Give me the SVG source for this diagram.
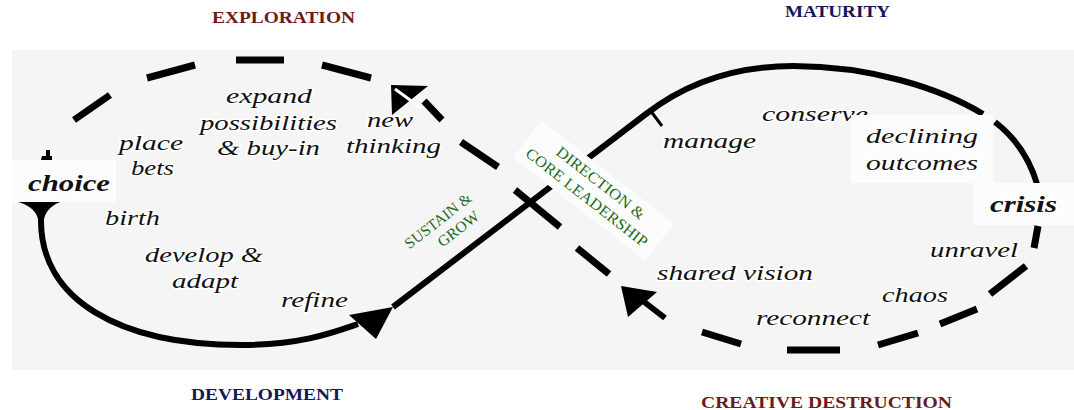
<svg xmlns="http://www.w3.org/2000/svg" width="1074" height="410" viewBox="0 0 1074 410">
<style>
.h{font-family:"Liberation Serif","Times New Roman",serif;font-weight:bold;font-size:16.5px}
.red{fill:#6e1a1a}
.navy{fill:#15155c}
.w{font-family:"Liberation Serif","Times New Roman",serif;font-style:italic;font-size:21.5px;fill:#111;stroke:#fff;stroke-width:3;paint-order:stroke;stroke-linejoin:round}
.b{font-weight:bold;font-size:24px}
.g{font-family:"Liberation Serif","Times New Roman",serif;font-size:15.5px;fill:#1f6a1f}
.sol{fill:none;stroke:#000;stroke-width:6}
.dash{fill:none;stroke:#000;stroke-width:7}
.ah{fill:#000}
.box{fill:#fcfcfc}
</style>
<rect width="1074" height="410" fill="#fff"/>
<rect x="12" y="50" width="1062" height="320" fill="#f5f5f5"/>

<g id="connectors">
  <!-- left loop solid lower arc -->
  <path class="sol" d="M41,219 C40,300 120,345 241,345 C300,345 332,333 358,324"/>
  <!-- sustain & grow line + right loop top -->
  <path class="sol" d="M393,307 L646,114 C690,80 740,66 793,66 C870,66 940,88 983,114"/>
  <path class="sol" d="M995,122 Q1026,146 1037,184"/>
  <path d="M650,110 L662,126" stroke="#000" stroke-width="3"/>
  <!-- right loop dashed lower arc -->
  <path class="dash" d="M1038,226 L1034,248"/>
  <path class="dash" d="M1026,266 L990,294"/>
  <path class="dash" d="M977,309 L940,324"/>
  <path class="dash" d="M918,333 L878,345"/>
  <path class="dash" d="M840,350 L787,350"/>
  <path class="dash" d="M741,344 L702,332"/>
  <!-- central dashed diagonal -->
  <path class="sol" d="M665,318 L643,301"/>
  <path class="dash" d="M609,274 L577,248"/>
  <path class="dash" d="M560,227 L515,190"/>
  <path class="dash" d="M498,167 L461,142"/>
  <path class="dash" d="M442,120 L424,101"/>
  <!-- left loop dashed top arc -->
  <path class="dash" d="M371,78 L322,65"/>
  <path class="dash" d="M284,60 L236,60"/>
  <path class="dash" d="M195,65 L147,78"/>
  <path class="dash" d="M110,95 L74,120"/>
  <path class="ah" d="M42,156 L52,156 L52,160 L41,160 Z M46,150 L50,150 L50,157 L46,157 Z"/>
  <!-- arrowheads -->
  <path class="ah" d="M15,201 L63,201 Q47,206 44,219 L38,219 Q35,206 15,201 Z"/>
  <polygon class="ah" points="349,315 393,307 376,339"/>
  <polygon class="ah" points="391,85 428,86 392,115"/>
  <path d="M395,89 L421,108" stroke="#fff" stroke-width="3"/>
  <polygon class="ah" points="621,286 657,292 628,317"/>
</g>

<g id="label-boxes">
  <rect class="box" x="12" y="160" width="104" height="42"/>
  <rect class="box" x="973" y="183" width="101" height="42"/>
</g>

<g id="headings">
  <text class="h red" x="212" y="23" textLength="143" lengthAdjust="spacingAndGlyphs">EXPLORATION</text>
  <text class="h navy" x="785" y="17" textLength="105" lengthAdjust="spacingAndGlyphs">MATURITY</text>
  <text class="h navy" x="191" y="400" textLength="152" lengthAdjust="spacingAndGlyphs">DEVELOPMENT</text>
  <text class="h red" x="701" y="408" textLength="251" lengthAdjust="spacingAndGlyphs">CREATIVE DESTRUCTION</text>
</g>

<g id="exploration-labels">
  <text class="w" x="226" y="103" textLength="86" lengthAdjust="spacingAndGlyphs">expand</text>
  <text class="w" x="200" y="130" textLength="137" lengthAdjust="spacingAndGlyphs">possibilities</text>
  <text class="w" x="217" y="155" textLength="103" lengthAdjust="spacingAndGlyphs">&amp; buy-in</text>
  <text class="w" x="119" y="150" textLength="64" lengthAdjust="spacingAndGlyphs">place</text>
  <text class="w" x="131" y="175" textLength="43" lengthAdjust="spacingAndGlyphs">bets</text>
  <text class="w" x="367" y="127" textLength="46" lengthAdjust="spacingAndGlyphs">new</text>
  <text class="w" x="346" y="153" textLength="95" lengthAdjust="spacingAndGlyphs">thinking</text>
</g>
<g id="choice">
  <text class="w b" x="28" y="191" textLength="82" lengthAdjust="spacingAndGlyphs">choice</text>
</g>
<g id="development-labels">
  <text class="w" x="105" y="225" textLength="55" lengthAdjust="spacingAndGlyphs">birth</text>
  <text class="w" x="145" y="262" textLength="118" lengthAdjust="spacingAndGlyphs">develop &amp;</text>
  <text class="w" x="172" y="288" textLength="66" lengthAdjust="spacingAndGlyphs">adapt</text>
  <text class="w" x="281" y="307" textLength="67" lengthAdjust="spacingAndGlyphs">refine</text>
</g>
<g id="maturity-labels">
  <text class="w" x="663" y="148" textLength="93" lengthAdjust="spacingAndGlyphs">manage</text>
  <text class="w" x="762" y="121" textLength="106" lengthAdjust="spacingAndGlyphs">conserve</text>
  <rect class="box" x="851" y="115" width="142" height="68"/>
  <text class="w" x="866" y="143" textLength="112" lengthAdjust="spacingAndGlyphs">declining</text>
  <text class="w" x="866" y="170" textLength="112" lengthAdjust="spacingAndGlyphs">outcomes</text>
</g>
<g id="crisis">
  <text class="w b" x="990" y="212" textLength="67" lengthAdjust="spacingAndGlyphs">crisis</text>
</g>
<g id="destruction-labels">
  <text class="w" x="930" y="257" textLength="88" lengthAdjust="spacingAndGlyphs">unravel</text>
  <text class="w" x="882" y="302" textLength="66" lengthAdjust="spacingAndGlyphs">chaos</text>
  <text class="w" x="756" y="325" textLength="114" lengthAdjust="spacingAndGlyphs">reconnect</text>
  <text class="w" x="657" y="280" textLength="156" lengthAdjust="spacingAndGlyphs">shared vision</text>
</g>

<g id="direction-label" transform="translate(590,195) rotate(38)">
  <rect class="box" x="-84" y="-29" width="168" height="47"/>
  <text class="g" x="1" y="-11" text-anchor="middle" textLength="108" lengthAdjust="spacingAndGlyphs">DIRECTION &amp;</text>
  <text class="g" x="-1" y="9" text-anchor="middle" textLength="150" lengthAdjust="spacingAndGlyphs">CORE LEADERSHIP</text>
</g>
<g id="sustain-label" transform="translate(450,228) rotate(-38)">
  <text class="g" x="-5" y="-8" text-anchor="middle" textLength="80" lengthAdjust="spacingAndGlyphs">SUSTAIN &amp;</text>
  <text class="g" x="6" y="11" text-anchor="middle" textLength="48" lengthAdjust="spacingAndGlyphs">GROW</text>
</g>
</svg>
